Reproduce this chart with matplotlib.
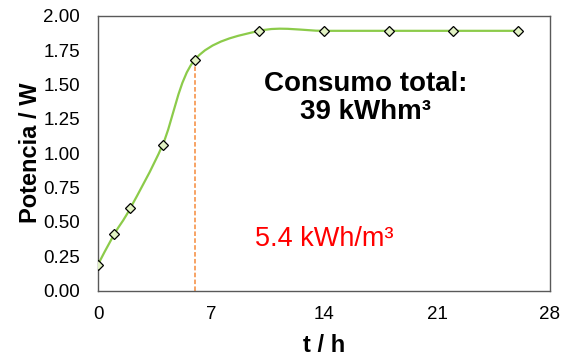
import numpy as np
import matplotlib
matplotlib.use("Agg")
import matplotlib.pyplot as plt
from matplotlib.path import Path
from matplotlib.patches import PathPatch

plt.rcParams['font.family'] = ['Liberation Sans', 'DejaVu Sans']

# Power measured over time
t_h = [0, 1, 2, 4, 6, 10, 14, 18, 22, 26]
power_w = [0.19, 0.41, 0.60, 1.06, 1.68, 1.89, 1.89, 1.89, 1.89, 1.89]

x_ticks = [0, 7, 14, 21, 28]
y_ticks = [0.00, 0.25, 0.50, 0.75, 1.00, 1.25, 1.50, 1.75, 2.00]

marker_t = 6
marker_p = 1.68
total_label = "Consumo total:\n39 kWhm³"
partial_label = "5.4 kWh/m³"


def smooth_path(x, y, tension=1 / 6):
    """Cubic Bezier path through the points (Catmull-Rom style smoothing)."""
    x = np.asarray(x, float)
    y = np.asarray(y, float)
    n = len(x)
    verts = [(x[0], y[0])]
    codes = [Path.MOVETO]
    for i in range(n - 1):
        x0, y0 = (x[i - 1], y[i - 1]) if i > 0 else (x[i], y[i])
        x3, y3 = (x[i + 2], y[i + 2]) if i + 2 < n else (x[i + 1], y[i + 1])
        c1 = (x[i] + (x[i + 1] - x0) * tension, y[i] + (y[i + 1] - y0) * tension)
        c2 = (x[i + 1] - (x3 - x[i]) * tension, y[i + 1] - (y3 - y[i]) * tension)
        verts += [c1, c2, (x[i + 1], y[i + 1])]
        codes += [Path.CURVE4] * 3
    return Path(verts, codes)


fig = plt.figure(figsize=(5.67, 3.62), dpi=100)
ax = fig.add_axes([98 / 567, 1 - 290.7 / 362, (550 - 98) / 567, (290.7 - 15.7) / 362])

ax.add_patch(PathPatch(smooth_path(t_h, power_w), facecolor='none',
                       edgecolor='#8CCB4A', lw=1.6, zorder=2))
ax.plot(t_h, power_w, linestyle='none', marker='D', markersize=4.6,
        markerfacecolor='#E2F2C4', markeredgecolor='black',
        markeredgewidth=0.9, zorder=3)

ax.plot([marker_t, marker_t], [0, marker_p], linestyle=(0, (3, 1.5)),
        color='#F58A3A', lw=1.1, zorder=1)

ax.text(16.6, 1.40, total_label, ha='center', va='center', fontsize=20,
        fontweight='bold', linespacing=1.1)
ax.text(14.0, 0.375, partial_label, ha='center', va='center', fontsize=19.5,
        color='#FF0000')

ax.set_xlim(0, 28)
ax.set_ylim(0, 2.0)
ax.set_xticks(x_ticks)
ax.set_yticks(y_ticks)
ax.set_yticklabels([f"{v:.2f}" for v in y_ticks])
ax.tick_params(length=0, labelsize=13.5)
ax.tick_params(axis='y', pad=13)
ax.tick_params(axis='x', pad=11)

for s in ax.spines.values():
    s.set_color('#595959')
    s.set_linewidth(1.0)

ax.set_xlabel("t / h", fontsize=17, fontweight='bold', labelpad=8)
ax.set_ylabel("Potencia / W", fontsize=17, fontweight='bold', labelpad=1)

fig.savefig("out.png", dpi=100)
